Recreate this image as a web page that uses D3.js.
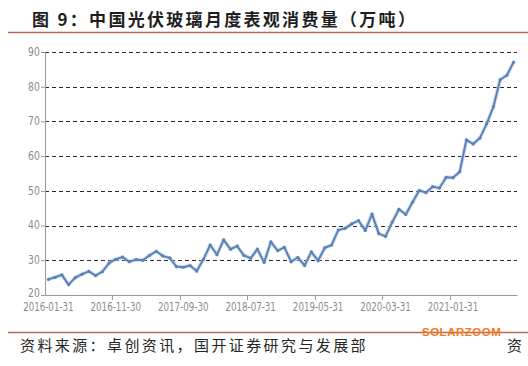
<!DOCTYPE html>
<html>
<head>
<meta charset="utf-8">
<script src="https://cdn.jsdelivr.net/npm/d3@7"></script>
<style>
  html, body { margin: 0; padding: 0; background: #fff; }
  svg { display: block; }
</style>
</head>
<body>
<div id="chart"></div>
<script>
const titleText = "图 9：中国光伏玻璃月度表观消费量（万吨）";
const sourceText = "资料来源：卓创资讯，国开证券研究与发展部";
const watermark = "SOLARZOOM";

const categories = [
  "2016-01-31","2016-02-29","2016-03-31","2016-04-30","2016-05-31","2016-06-30","2016-07-31","2016-08-31","2016-09-30","2016-10-31","2016-11-30","2016-12-31",
  "2017-01-31","2017-02-28","2017-03-31","2017-04-30","2017-05-31","2017-06-30","2017-07-31","2017-08-31","2017-09-30","2017-10-31","2017-11-30","2017-12-31",
  "2018-01-31","2018-02-28","2018-03-31","2018-04-30","2018-05-31","2018-06-30","2018-07-31","2018-08-31","2018-09-30","2018-10-31","2018-11-30","2018-12-31",
  "2019-01-31","2019-02-28","2019-03-31","2019-04-30","2019-05-31","2019-06-30","2019-07-31","2019-08-31","2019-09-30","2019-10-31","2019-11-30","2019-12-31",
  "2020-01-31","2020-02-29","2020-03-31","2020-04-30","2020-05-31","2020-06-30","2020-07-31","2020-08-31","2020-09-30","2020-10-31","2020-11-30","2020-12-31",
  "2021-01-31","2021-02-28","2021-03-31","2021-04-30","2021-05-31","2021-06-30","2021-07-31","2021-08-31","2021-09-30","2021-10-31"
];

const consumption = [
  24.5,25.1,25.8,23.0,25.0,26.0,26.8,25.6,26.7,29.2,
  30.3,30.9,29.6,30.2,30.0,31.4,32.6,31.2,30.7,28.2,
  28.0,28.5,26.9,30.3,34.4,31.6,35.9,33.2,34.1,31.4,
  30.6,33.2,29.4,35.3,32.8,33.7,29.6,30.8,28.5,32.4,
  29.9,33.6,34.4,38.7,39.2,40.5,41.4,38.6,43.3,37.7,
  36.9,41.0,44.7,43.2,46.7,50.1,49.5,51.2,50.8,53.9,
  53.8,55.5,64.7,63.5,65.2,69.3,74.2,82.0,83.3,87.1
];

const xTickLabels = ["2016-01-31","2016-11-30","2017-09-30","2018-07-31","2019-05-31","2020-03-31","2021-01-31"];
const yTicks = [20,30,40,50,60,70,80,90];

const W = 528, H = 366;
const plot = { left: 45, right: 517, top: 52, bottom: 295 };

const svg = d3.select("#chart").append("svg")
  .attr("width", W).attr("height", H);

// Title
svg.append("text")
  .attr("x", 32).attr("y", 26)
  .attr("font-family", "'Noto Sans CJK SC', sans-serif")
  .attr("font-weight", "bold")
  .attr("font-size", 17)
  .attr("letter-spacing", "2.3px")
  .attr("fill", "#1e1e1e")
  .text(titleText);

svg.append("line")
  .attr("x1", 8).attr("x2", W).attr("y1", 32.5).attr("y2", 32.5)
  .attr("stroke", "#b4685b").attr("stroke-width", 1.5);

// Scales
const x = d3.scaleBand().domain(categories).range([plot.left, plot.right]).paddingInner(0).paddingOuter(0);
const cx = d => x(d) + x.bandwidth() / 2;
const y = d3.scaleLinear().domain([20, 90]).range([plot.bottom, plot.top]);

// Gridlines
svg.append("g").selectAll("line")
  .data(yTicks.filter(t => t > 20))
  .join("line")
  .attr("x1", plot.left).attr("x2", plot.right)
  .attr("y1", d => Math.round(y(d)) + 0.5).attr("y2", d => Math.round(y(d)) + 0.5)
  .attr("stroke", "#2b2b2b").attr("stroke-width", 1)
  .attr("stroke-dasharray", "4,3");

const axisFont = "'Liberation Sans Narrow', 'DejaVu Sans Condensed', sans-serif";

// Y axis
const yAxis = svg.append("g")
  .attr("transform", `translate(${plot.left},0)`)
  .call(d3.axisLeft(y).tickValues(yTicks).tickSize(4).tickPadding(0).tickFormat(d3.format("d")));
yAxis.select(".domain").attr("stroke", "#9a9a9a");
yAxis.selectAll(".tick line").attr("stroke", "#9a9a9a");
yAxis.selectAll(".tick text")
  .attr("x", -6)
  .attr("dy", d => d === 20 ? "0.12em" : "0.28em")
  .attr("transform", "scale(0.86,1)")
  .attr("font-family", axisFont).attr("font-size", 12).attr("fill", "#8a8a8a");

// X axis
const xAxis = svg.append("g")
  .attr("transform", `translate(0,${plot.bottom})`)
  .call(d3.axisBottom(x).tickValues(xTickLabels).tickSize(0).tickPadding(9));
xAxis.select(".domain").attr("stroke", "#9a9a9a");
xAxis.selectAll(".tick text")
  .attr("transform", "scale(0.84,1)")
  .attr("dy", "0.62em")
  .attr("font-family", axisFont).attr("font-size", 11.5).attr("fill", "#8a8a8a");
// tick marks at category boundaries
xAxis.selectAll(".tickmark")
  .data(xTickLabels.slice(1))
  .join("line")
  .attr("class", "tickmark")
  .attr("x1", d => Math.round(x(d)) + 0.5).attr("x2", d => Math.round(x(d)) + 0.5)
  .attr("y1", 0).attr("y2", 5)
  .attr("stroke", "#9a9a9a");

// Line
const data = categories.map((c, i) => ({ c, v: consumption[i] }));
const line = d3.line().x(d => cx(d.c)).y(d => y(d.v));

svg.append("path")
  .datum(data)
  .attr("d", line)
  .attr("fill", "none")
  .attr("stroke", "#b9cde6")
  .attr("stroke-width", 4)
  .attr("stroke-linejoin", "round")
  .attr("opacity", 0.6);

svg.append("path")
  .datum(data)
  .attr("d", line)
  .attr("fill", "none")
  .attr("stroke", "#5b82b8")
  .attr("stroke-width", 2)
  .attr("stroke-linejoin", "round");

svg.append("g").selectAll("circle")
  .data(data)
  .join("circle")
  .attr("cx", d => cx(d.c)).attr("cy", d => y(d.v))
  .attr("r", 1.6)
  .attr("fill", "#5b82b8");

// Footer
svg.append("line")
  .attr("x1", 8).attr("x2", W).attr("y1", 332.5).attr("y2", 332.5)
  .attr("stroke", "#b4685b").attr("stroke-width", 1.5);

svg.append("text")
  .attr("x", 422).attr("y", 335.5)
  .attr("font-family", "'Liberation Sans', Arial, sans-serif")
  .attr("font-weight", "bold")
  .attr("font-size", 11.5)
  .attr("letter-spacing", "0.5px")
  .attr("fill", "#f27a22")
  .text(watermark);

svg.append("text")
  .attr("x", 20).attr("y", 351)
  .attr("font-family", "'Noto Sans CJK SC', sans-serif")
  .attr("font-size", 15)
  .attr("letter-spacing", "2.4px")
  .attr("fill", "#262626")
  .text(sourceText);

svg.append("text")
  .attr("x", 507).attr("y", 351)
  .attr("font-family", "'Noto Sans CJK SC', sans-serif")
  .attr("font-size", 15)
  .attr("fill", "#262626")
  .text("资");
</script>
</body>
</html>
